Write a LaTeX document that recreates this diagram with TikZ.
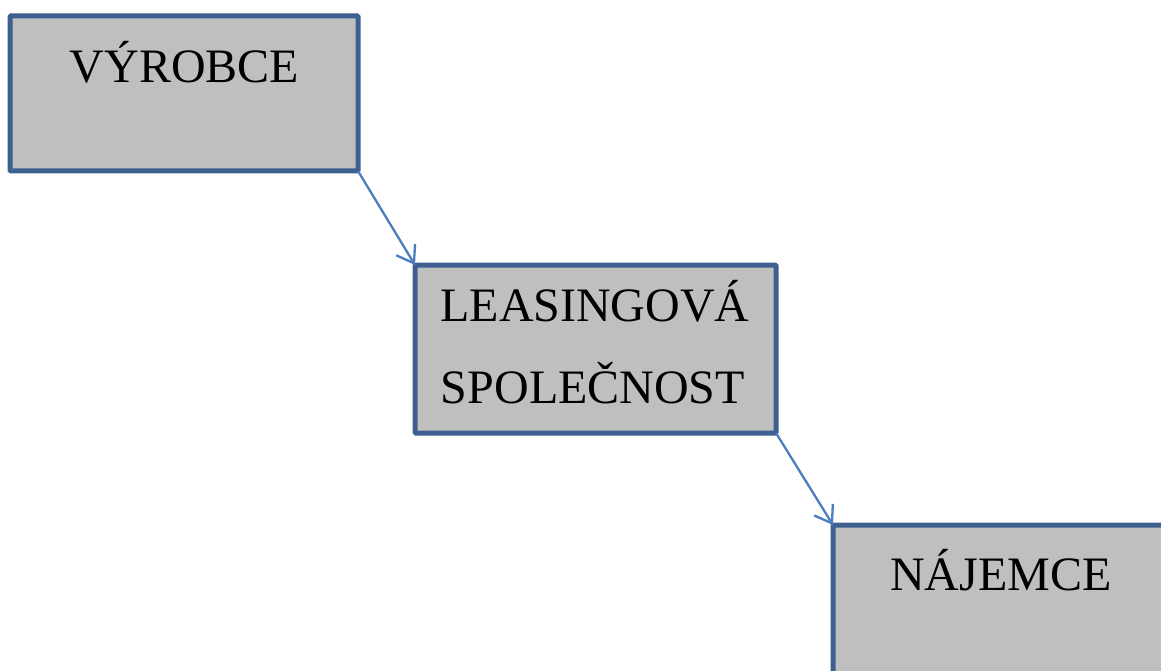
\documentclass[tikz,border=0pt]{standalone}
\usepackage{fontspec}
\setmainfont{Liberation Serif}
\usetikzlibrary{arrows.meta}
\definecolor{boxborder}{RGB}{62,96,144}
\definecolor{boxfill}{RGB}{191,191,191}
\definecolor{arrowblue}{RGB}{74,126,190}
\tikzset{
  box/.style={draw=boxborder, fill=boxfill, line width=5pt, rectangle, inner sep=0pt, outer sep=0pt, rounded corners=1pt},
  lbl/.style={anchor=base, inner sep=0pt, font=\fontsize{48}{56}\selectfont},
  conn/.style={draw=arrowblue, line width=2.3pt, -{Straight Barb[length=16pt,width=22pt,line width=2.3pt]}}
}
\begin{document}
\begin{tikzpicture}[x=1pt,y=-1pt]
\useasboundingbox (0,0) rectangle (1161,671);
\clip (0,0) rectangle (1161,671);
\node[box, minimum width=348pt, minimum height=155pt] (b1) at (184,93.5) {};
\node[box, minimum width=361pt, minimum height=168pt] (b2) at (595.5,349) {};
\node[box, minimum width=340pt, minimum height=190pt] (b3) at (1003,620) {};
\node[lbl] (t1) at (184.5,83) {VÝROBCE};
\node[lbl] (t2a) at (595,321) {LEASINGOVÁ};
\node[lbl] (t2b) at (593,403) {SPOLEČNOST};
\node[lbl] (t3) at (1001,590) {NÁJEMCE};
\draw[conn] (b1.south east) -- (b2.north west);
\draw[conn] (b2.south east) -- (b3.north west);
\end{tikzpicture}
\end{document}
